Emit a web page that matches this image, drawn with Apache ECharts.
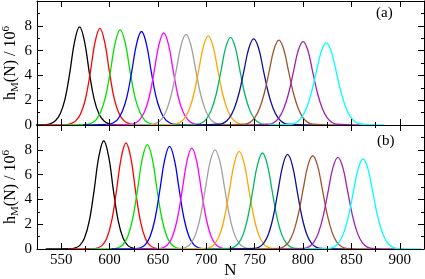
<!DOCTYPE html>
<html><head><meta charset="utf-8">
<script src="https://cdn.jsdelivr.net/npm/echarts@6/dist/echarts.min.js"></script>
<style>html,body{margin:0;padding:0;background:#fff}#c{width:425px;height:279px}</style>
</head><body><div id="c"></div>
<script>
const colors = ['#000000','#ff0000','#00e000','#0000ff','#ff00ff','#a0a0a0','#ffa500','#00b860','#10109a','#a0522d','#a020b0','#00ffff'];
const xMajor = [550,600,650,700,750,800,850,900];
const xMinor = [575,625,675,725,775,825,875];
const xMin = 525, xMax = 925;

// Panel (a)
const aN1 = [509,534,539,544,549,554,559,564,569,574,579,584,589,594,599,604,629];
const aH1 = [0,0.03,0.11,0.34,0.90,2.10,4.27,6.79,7.92,6.79,4.27,2.10,0.90,0.34,0.11,0.03,0];
const aN2 = [530,555,560,565,570,575,580,585,590,595,600,605,610,615,620,625,650];
const aH2 = [0,0.03,0.11,0.33,0.89,2.07,4.20,6.68,7.80,6.68,4.20,2.07,0.89,0.33,0.11,0.03,0];
const aN3 = [551,576,581,586,591,596,601,606,611,616,621,626,631,636,641,646,671];
const aH3 = [0,0.04,0.14,0.42,1.08,2.33,4.41,6.68,7.67,6.68,4.41,2.33,1.08,0.42,0.14,0.04,0];
const aN4 = [573,598,603,608,613,618,623,628,633,638,643,648,653,658,663,668,693];
const aH4 = [0,0.04,0.14,0.41,1.06,2.29,4.34,6.57,7.54,6.57,4.34,2.29,1.06,0.41,0.14,0.04,0];
const aN5 = [596,621,626,631,636,641,646,651,656,661,666,671,676,681,686,691,716];
const aH5 = [0,0.04,0.13,0.41,1.04,2.26,4.27,6.46,7.42,6.46,4.27,2.26,1.04,0.41,0.13,0.04,0];
const aN6 = [619,644,649,654,659,664,669,674,679,684,689,694,699,704,709,714,739];
const aH6 = [0,0.05,0.17,0.50,1.22,2.50,4.44,6.45,7.31,6.45,4.44,2.50,1.22,0.50,0.17,0.05,0];
const aN7 = [642,667,672,677,682,687,692,697,702,707,712,717,722,727,732,737,762];
const aH7 = [0,0.05,0.17,0.49,1.20,2.46,4.36,6.34,7.19,6.34,4.36,2.46,1.20,0.49,0.17,0.05,0];
const aN8 = [665,690,695,700,705,710,715,720,725,730,735,740,745,750,755,760,785];
const aH8 = [0,0.05,0.16,0.48,1.18,2.42,4.29,6.24,7.07,6.24,4.29,2.42,1.18,0.48,0.16,0.05,0];
const aN9 = [689,714,719,724,729,734,739,744,749,754,759,764,769,774,779,784,809];
const aH9 = [0,0.06,0.21,0.59,1.35,2.62,4.41,6.21,6.95,6.21,4.41,2.62,1.35,0.59,0.21,0.06,0];
const aN10 = [715,740,745,750,755,760,765,770,775,780,785,790,795,800,805,810,835];
const aH10 = [0,0.06,0.21,0.58,1.33,2.58,4.34,6.11,6.84,6.11,4.34,2.58,1.33,0.58,0.21,0.06,0];
const aN11 = [740,765,770,775,780,785,790,795,800,805,810,815,820,825,830,835,860];
const aH11 = [0,0.06,0.20,0.57,1.31,2.54,4.27,6.01,6.73,6.01,4.27,2.54,1.31,0.57,0.20,0.06,0];
const aN12 = [764,789,794,799,804,809,814,819,824,829,834,839,844,849,854,859,884];
const aH12 = [0,0.08,0.25,0.66,1.45,2.72,4.38,5.97,6.62,5.97,4.38,2.72,1.45,0.66,0.25,0.08,0];

// Panel (b)
const bN1 = [534,559,564,569,574,579,584,589,594,599,604,609,614,619,624,629,654];
const bH1 = [0,0.02,0.07,0.27,0.86,2.24,4.71,7.48,8.73,7.48,4.71,2.24,0.86,0.27,0.07,0.02,0];
const bN2 = [557,582,587,592,597,602,607,612,617,622,627,632,637,642,647,652,677];
const bH2 = [0,0.02,0.07,0.27,0.85,2.20,4.61,7.33,8.55,7.33,4.61,2.20,0.85,0.27,0.07,0.02,0];
const bN3 = [579,604,609,614,619,624,629,634,639,644,649,654,659,664,669,674,699];
const bH3 = [0,0.03,0.10,0.36,1.05,2.48,4.84,7.33,8.41,7.33,4.84,2.48,1.05,0.36,0.10,0.03,0];
const bN4 = [602,627,632,637,642,647,652,657,662,667,672,677,682,687,692,697,722];
const bH4 = [0,0.03,0.10,0.35,1.03,2.44,4.76,7.20,8.27,7.20,4.76,2.44,1.03,0.35,0.10,0.03,0];
const bN5 = [625,650,655,660,665,670,675,680,685,690,695,700,705,710,715,720,745];
const bH5 = [0,0.03,0.10,0.34,1.01,2.40,4.68,7.09,8.14,7.09,4.68,2.40,1.01,0.34,0.10,0.03,0];
const bN6 = [649,674,679,684,689,694,699,704,709,714,719,724,729,734,739,744,769];
const bH6 = [0,0.04,0.14,0.45,1.20,2.66,4.86,7.06,8.00,7.06,4.86,2.66,1.20,0.45,0.14,0.04,0];
const bN7 = [674,699,704,709,714,719,724,729,734,739,744,749,754,759,764,769,794];
const bH7 = [0,0.04,0.13,0.44,1.18,2.62,4.78,6.94,7.87,6.94,4.78,2.62,1.18,0.44,0.13,0.04,0];
const bN8 = [698,723,728,733,738,743,748,753,758,763,768,773,778,783,788,793,818];
const bH8 = [0,0.04,0.13,0.43,1.16,2.58,4.70,6.83,7.74,6.83,4.70,2.58,1.16,0.43,0.13,0.04,0];
const bN9 = [724,749,754,759,764,769,774,779,784,789,794,799,804,809,814,819,844];
const bH9 = [0,0.04,0.13,0.43,1.15,2.54,4.63,6.73,7.63,6.73,4.63,2.54,1.15,0.43,0.13,0.04,0];
const bN10 = [750,775,780,785,790,795,800,805,810,815,820,825,830,835,840,845,870];
const bH10 = [0,0.05,0.18,0.54,1.34,2.77,4.78,6.72,7.52,6.72,4.78,2.77,1.34,0.54,0.18,0.05,0];
const bN11 = [776,801,806,811,816,821,826,831,836,841,846,851,856,861,866,871,896];
const bH11 = [0,0.05,0.17,0.53,1.32,2.72,4.69,6.60,7.39,6.60,4.69,2.72,1.32,0.53,0.17,0.05,0];
const bN12 = [802,827,832,837,842,847,852,857,862,867,872,877,882,887,892,897,922];
const bH12 = [0,0.05,0.17,0.52,1.30,2.67,4.61,6.48,7.26,6.48,4.61,2.67,1.30,0.52,0.17,0.05,0];

const panelA = [[aN1,aH1],[aN2,aH2],[aN3,aH3],[aN4,aH4],[aN5,aH5],[aN6,aH6],[aN7,aH7],[aN8,aH8],[aN9,aH9],[aN10,aH10],[aN11,aH11],[aN12,aH12]];
const panelB = [[bN1,bH1],[bN2,bH2],[bN3,bH3],[bN4,bH4],[bN5,bH5],[bN6,bH6],[bN7,bH7],[bN8,bH8],[bN9,bH9],[bN10,bH10],[bN11,bH11],[bN12,bH12]];

const FONT = 'Liberation Serif';
const line = {show: true, onZero: false, lineStyle: {color: '#000', width: 1}};

function xAxes(g, showLabels) {
  const base = {type: 'value', gridIndex: g, min: xMin, max: xMax, splitLine: {show: false}, z: 10};
  return [
    Object.assign({}, base, {position: 'bottom', axisLine: line,
      axisTick: {show: true, inside: true, length: 6, customValues: xMajor, lineStyle: {color: '#000'}},
      axisLabel: {show: showLabels, customValues: xMajor, fontFamily: FONT, fontSize: 15, color: '#000', margin: 4},
      name: showLabels ? 'N' : '', nameLocation: 'middle', nameGap: 13, nameMoveOverlap: false,
      nameTextStyle: {fontFamily: FONT, fontSize: 17, color: '#000'}}),
    Object.assign({}, base, {position: 'bottom', axisLine: {show: false},
      axisTick: {show: true, inside: true, length: 3, customValues: xMinor, lineStyle: {color: '#000'}},
      axisLabel: {show: false}}),
    Object.assign({}, base, {position: 'top', axisLine: line,
      axisTick: {show: true, inside: true, length: 6, customValues: xMajor, lineStyle: {color: '#000'}},
      axisLabel: {show: false}}),
    Object.assign({}, base, {position: 'top', axisLine: {show: false},
      axisTick: {show: true, inside: true, length: 3, customValues: xMinor, lineStyle: {color: '#000'}},
      axisLabel: {show: false}})
  ];
}
function yAxes(g) {
  const base = {type: 'value', gridIndex: g, min: 0, max: 10, interval: 2, splitLine: {show: false}, z: 10,
    axisLine: line,
    axisTick: {show: true, inside: true, length: 6, lineStyle: {color: '#000'}},
    minorTick: {show: true, splitNumber: 2, length: 3, lineStyle: {color: '#000'}},
    minorSplitLine: {show: false}};
  return [
    Object.assign({}, base, {position: 'left',
      axisLabel: {show: true, showMaxLabel: false, fontFamily: FONT, fontSize: 15, color: '#000', margin: 5},
      name: '{n|h}{s|M}{n|(N) / 10}{p|6}', nameLocation: 'middle', nameRotate: 90, nameGap: 16, nameMoveOverlap: false,
      nameTextStyle: {fontFamily: FONT, color: '#000', rich: {
        n: {fontFamily: FONT, fontSize: 16, color: '#000', lineHeight: 20, verticalAlign: 'middle'},
        s: {fontFamily: FONT, fontSize: 11, color: '#000', verticalAlign: 'bottom'},
        p: {fontFamily: FONT, fontSize: 11, color: '#000', verticalAlign: 'top'}
      }}}),
    Object.assign({}, base, {position: 'right', axisLabel: {show: false}})
  ];
}

const series = [];
panelA.forEach((c, i) => series.push({type: 'line', xAxisIndex: 0, yAxisIndex: 0, showSymbol: false, smooth: 0.4,
  lineStyle: {color: colors[i], width: 1.3}, data: c[0].map((n, k) => [n, c[1][k]]), clip: true, silent: true}));
panelB.forEach((c, i) => series.push({type: 'line', xAxisIndex: 4, yAxisIndex: 2, showSymbol: false, smooth: 0.4,
  lineStyle: {color: colors[i], width: 1.3}, data: c[0].map((n, k) => [n, c[1][k]]), clip: true, silent: true}));

const chart = echarts.init(document.getElementById('c'), null, {renderer: 'canvas'});
chart.setOption({
  animation: false,
  backgroundColor: '#fff',
  grid: [
    {left: 37, right: 1, top: 1, height: 124, containLabel: false, outerBoundsMode: 'none'},
    {left: 37, right: 1, top: 125, height: 124, containLabel: false, outerBoundsMode: 'none'}
  ],
  xAxis: [].concat(xAxes(0, false), xAxes(1, true)),
  yAxis: [].concat(yAxes(0), yAxes(1)),
  series: series,
  graphic: [
    {type: 'text', left: 376, top: 6, style: {text: '(a)', font: '15px "Liberation Serif"', fill: '#000'}},
    {type: 'text', left: 377, top: 134, style: {text: '(b)', font: '15px "Liberation Serif"', fill: '#000'}}
  ]
});
</script>
</body></html>
